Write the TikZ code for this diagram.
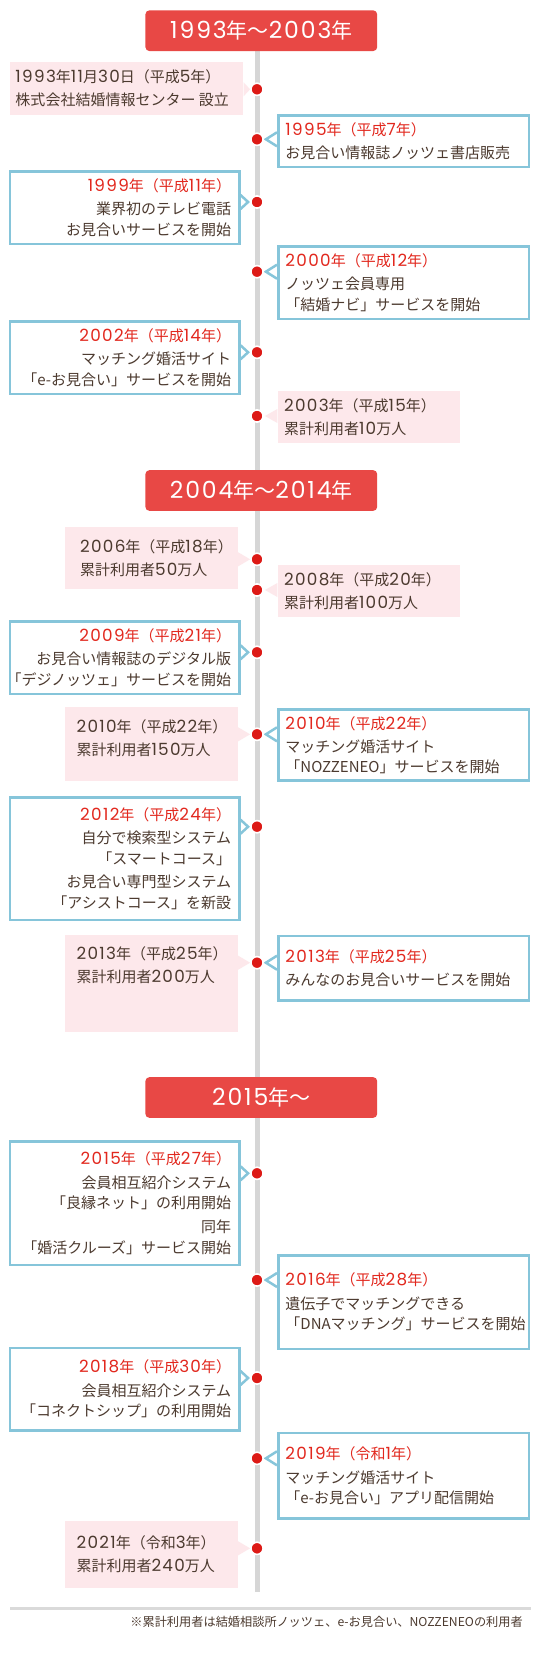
\documentclass[tikz,border=0pt]{standalone}
\usepackage{fontspec}
\setmainfont{Noto Sans CJK JP}
\newfontfamily\digitfont{Poppins}[Scale=1.12, LetterSpace=8]
\usetikzlibrary{positioning, calc, backgrounds}
\definecolor{erared}{HTML}{E84845}
\definecolor{yearred}{HTML}{E2281E}
\definecolor{dotred}{HTML}{DD1A16}
\definecolor{txtbrown}{HTML}{4C3A2F}
\definecolor{boxblue}{HTML}{86C5DA}
\definecolor{boxpink}{HTML}{FDE8EB}
\definecolor{spinegray}{HTML}{D6D6D6}
\definecolor{sepgray}{HTML}{DADADA}

% digits in Poppins, the rest in Noto Sans CJK
\newXeTeXintercharclass\digitclass
\newcount\chr
\chr=`0 \loop\XeTeXcharclass\chr=\digitclass \ifnum\chr<`9 \advance\chr by 1 \repeat
\newcount\cls
\cls=0 \loop
  \XeTeXinterchartoks\cls\digitclass={\begingroup\digitfont}%
  \XeTeXinterchartoks\digitclass\cls={\endgroup}%
  \ifnum\cls<\numexpr\digitclass-1\relax \advance\cls by 1 \repeat
\XeTeXinterchartoks 4095 \digitclass={\begingroup\digitfont}
\XeTeXinterchartoks\digitclass 4095 ={\endgroup}

\begin{document}
\XeTeXinterchartokenstate=1
\begin{tikzpicture}[x=1pt, y=1pt,
    every node/.style={font=\fontsize{15}{20.5}\selectfont, text=txtbrown},
    era/.style={fill=erared, rounded corners=4pt, minimum width=231.8pt, minimum height=40.7pt, inner sep=0pt, text=white, font=\fontsize{21}{24}\selectfont},
    evt/.style={draw=boxblue, line width=2.5pt, fill=white, inner sep=0pt},
    evl/.style={evt, minimum width=229.4pt},
    evr/.style={evt, minimum width=250.8pt},
    cnt/.style={fill=boxpink, inner sep=0pt},
    cntl/.style={cnt, minimum width=173.5pt},
    cntr/.style={cnt, minimum width=182.1pt},
    txtl/.style={align=right, inner sep=0pt},
    txtr/.style={align=left, inner sep=0pt},
    dot/.style={circle, fill=dotred, draw=white, line width=1.6pt, minimum size=12.2pt, inner sep=0pt},
    spine/.style={line width=5pt, spinegray},
    bptr/.style={draw=boxblue, line width=2.5pt, fill=white},
    pptr/.style={fill=boxpink},
    sep/.style={line width=2.7pt, sepgray},
    note/.style={font=\fontsize{12.2}{14}\selectfont, inner sep=0pt}
]
\useasboundingbox (0,0) rectangle (540,-1654);

% eras
\node[era] (era1) at (261.3,-30.7) {1993年〜2003年};
\node[era] (era2) at (261.3,-490.5) {2004年〜2014年};
\node[era] (era3) at (261.3,-1097.5) {2015年〜};

% dots on the time line
\node[dot] (d1993) at (257,-89.3) {};
\node[dot] (d1995) at (257,-139.3) {};
\node[dot] (d1999) at (257,-202) {};
\node[dot] (d2000) at (257,-271.7) {};
\node[dot] (d2002) at (257,-352.3) {};
\node[dot] (d2003) at (257,-416) {};
\node[dot] (d2006) at (257,-559.3) {};
\node[dot] (d2008) at (257,-590) {};
\node[dot] (d2009) at (257,-652.3) {};
\node[dot] (d2010) at (257,-734.3) {};
\node[dot] (d2012) at (257,-826.7) {};
\node[dot] (d2013) at (257,-962.7) {};
\node[dot] (d2015) at (257,-1173.3) {};
\node[dot] (d2016) at (257,-1280) {};
\node[dot] (d2018) at (257,-1378) {};
\node[dot] (d2019) at (257,-1458.3) {};
\node[dot] (d2021) at (257,-1548.3) {};

% 1993 - 2003
\node[cnt, minimum width=233.7pt, minimum height=53pt] (p1993) at (126.55,-88.5) {};
\node[txtr, right=5.8pt of p1993.west] (t1993) {1993年11月30日（平成5年）\\[2.5pt]株式会社結婚情報センター 設立};

\node[evr, minimum height=51.5pt] (b1995) at (403.65,-141.3) {};
\node[txtr, right=8.25pt of b1995.west] (t1995) {\textcolor{yearred}{1995年（平成7年）}\\[2.5pt]お見合い情報誌ノッツェ書店販売};

\node[evl, minimum height=72.5pt] (b1999) at (124.55,-207.5) {};
\node[txtl, left=9.25pt of b1999.east] (t1999) {\textcolor{yearred}{1999年（平成11年）}\\[2.5pt]業界初のテレビ電話\\お見合いサービスを開始};

\node[evr, minimum height=72.5pt] (b2000) at (403.65,-282.5) {};
\node[txtr, right=8.25pt of b2000.west] (t2000) {\textcolor{yearred}{2000年（平成12年）}\\[2.5pt]ノッツェ会員専用\\「結婚ナビ」サービスを開始};

\node[evl, minimum height=72.5pt] (b2002) at (124.55,-357.5) {};
\node[txtl, left=9.25pt of b2002.east] (t2002) {\textcolor{yearred}{2002年（平成14年）}\\[2.5pt]マッチング婚活サイト\\「e-お見合い」サービスを開始};

\node[cntr, minimum height=52pt] (p2003) at (368.65,-417.3) {};
\node[txtr, right=6.4pt of p2003.west] (t2003) {2003年（平成15年）\\[2.5pt]累計利用者10万人};

% 2004 - 2014
\node[cntl, minimum height=62.6pt] (p2006) at (151.25,-558) {};
\node[txtr, right=15.5pt of p2006.west] (t2006) {2006年（平成18年）\\[2.5pt]累計利用者50万人};

\node[cntr, minimum height=52.3pt] (p2008) at (368.65,-591.2) {};
\node[txtr, right=6.4pt of p2008.west] (t2008) {2008年（平成20年）\\[2.5pt]累計利用者100万人};

\node[evl, minimum height=72.5pt] (b2009) at (124.55,-657.5) {};
\node[txtl, left=9.25pt of b2009.east] (t2009) {\textcolor{yearred}{2009年（平成21年）}\\[2.5pt]お見合い情報誌のデジタル版\\「デジノッツェ」サービスを開始};

\node[cntl, minimum height=74pt] (p2010) at (151.25,-743.7) {};
\node[txtr, right=12pt of p2010.west, yshift=5.7pt] (t2010a) {2010年（平成22年）\\[2.5pt]累計利用者150万人};

\node[evr, minimum height=71pt] (b2010) at (403.65,-745) {};
\node[txtr, right=8.25pt of b2010.west] (t2010b) {\textcolor{yearred}{2010年（平成22年）}\\[2.5pt]マッチング婚活サイト\\「NOZZENEO」サービスを開始};

\node[evl, minimum height=122.5pt] (b2012) at (124.55,-858.5) {};
\node[txtl, left=9.25pt of b2012.east] (t2012) {\textcolor{yearred}{2012年（平成24年）}\\[3pt]自分で検索型システム\\「スマートコース」\\[3pt]お見合い専門型システム\\「アシストコース」を新設};

\node[cntl, minimum height=96.7pt] (p2013) at (151.25,-983.3) {};
\node[txtr, right=12pt of p2013.west, yshift=17.8pt] (t2013a) {2013年（平成25年）\\[2.5pt]累計利用者200万人};

\node[evr, minimum height=64.2pt] (b2013) at (403.65,-968.3) {};
\node[txtr, right=8.25pt of b2013.west] (t2013b) {\textcolor{yearred}{2013年（平成25年）}\\[2.5pt]みんなのお見合いサービスを開始};

% 2015 -
\node[evl, minimum height=123.5pt] (b2015) at (124.55,-1203) {};
\node[txtl, left=9.25pt of b2015.east] (t2015) {\textcolor{yearred}{2015年（平成27年）}\\[3.5pt]会員相互紹介システム\\「良縁ネット」の利用開始\\[3.5pt]同年\\「婚活クルーズ」サービス開始};

\node[evr, minimum height=93.5pt] (b2016) at (403.65,-1302) {};
\node[txtr, right=8.25pt of b2016.west] (t2016) {\textcolor{yearred}{2016年（平成28年）}\\[3pt]遺伝子でマッチングできる\\「DNAマッチング」サービスを開始};

\node[evl, minimum height=82.5pt] (b2018) at (124.55,-1389.2) {};
\node[txtl, left=9.25pt of b2018.east] (t2018) {\textcolor{yearred}{2018年（平成30年）}\\[3pt]会員相互紹介システム\\「コネクトシップ」の利用開始};

\node[evr, minimum height=85.8pt] (b2019) at (403.65,-1475.8) {};
\node[txtr, right=8.25pt of b2019.west] (t2019) {\textcolor{yearred}{2019年（令和1年）}\\[3pt]マッチング婚活サイト\\「e-お見合い」アプリ配信開始};

\node[cntl, minimum height=66.7pt] (p2021) at (151.25,-1554.3) {};
\node[txtr, right=12pt of p2021.west] (t2021) {2021年（令和3年）\\[2.5pt]累計利用者240万人};

% footnote
\coordinate (sepl) at (10.3,-1608.7);
\coordinate (sepr) at (531,-1608.7);
\draw[sep] (sepl) -- (sepr);
\node[note, anchor=east] (note) at (523,-1621.7) {※累計利用者は結婚相談所ノッツェ、e-お見合い、NOZZENEOの利用者};

\begin{scope}[on background layer]
\fill[white] (0,0) rectangle (540,-1654);
\coordinate (spineend) at (257,-1592);
\draw[spine] (era1.south -| d1993) -- (spineend);
% pointers
\fill[pptr] ($(p1993.east |- d1993)+(0,7)$) -- (d1993.west) -- ($(p1993.east |- d1993)+(0,-7)$) -- cycle;
\draw[bptr] ($(b1995.west |- d1995)+(0,7)$) -- ([xshift=2pt]d1995.east) -- ($(b1995.west |- d1995)+(0,-7)$);
\draw[bptr] ($(b1999.east |- d1999)+(0,7)$) -- ([xshift=-2pt]d1999.west) -- ($(b1999.east |- d1999)+(0,-7)$);
\draw[bptr] ($(b2000.west |- d2000)+(0,7)$) -- ([xshift=2pt]d2000.east) -- ($(b2000.west |- d2000)+(0,-7)$);
\draw[bptr] ($(b2002.east |- d2002)+(0,7)$) -- ([xshift=-2pt]d2002.west) -- ($(b2002.east |- d2002)+(0,-7)$);
\fill[pptr] ($(p2003.west |- d2003)+(0,7)$) -- ([xshift=1pt]d2003.east) -- ($(p2003.west |- d2003)+(0,-7)$) -- cycle;
\fill[pptr] ($(p2006.east |- d2006)+(0,7)$) -- (d2006.west) -- ($(p2006.east |- d2006)+(0,-7)$) -- cycle;
\fill[pptr] ($(p2008.west |- d2008)+(0,7)$) -- ([xshift=1pt]d2008.east) -- ($(p2008.west |- d2008)+(0,-7)$) -- cycle;
\draw[bptr] ($(b2009.east |- d2009)+(0,7)$) -- ([xshift=-2pt]d2009.west) -- ($(b2009.east |- d2009)+(0,-7)$);
\fill[pptr] ($(p2010.east |- d2010)+(0,7)$) -- (d2010.west) -- ($(p2010.east |- d2010)+(0,-7)$) -- cycle;
\draw[bptr] ($(b2010.west |- d2010)+(0,7)$) -- ([xshift=2pt]d2010.east) -- ($(b2010.west |- d2010)+(0,-7)$);
\draw[bptr] ($(b2012.east |- d2012)+(0,7)$) -- ([xshift=-2pt]d2012.west) -- ($(b2012.east |- d2012)+(0,-7)$);
\fill[pptr] ($(p2013.east |- d2013)+(0,7)$) -- (d2013.west) -- ($(p2013.east |- d2013)+(0,-7)$) -- cycle;
\draw[bptr] ($(b2013.west |- d2013)+(0,7)$) -- ([xshift=2pt]d2013.east) -- ($(b2013.west |- d2013)+(0,-7)$);
\draw[bptr] ($(b2015.east |- d2015)+(0,7)$) -- ([xshift=-2pt]d2015.west) -- ($(b2015.east |- d2015)+(0,-7)$);
\draw[bptr] ($(b2016.west |- d2016)+(0,7)$) -- ([xshift=2pt]d2016.east) -- ($(b2016.west |- d2016)+(0,-7)$);
\draw[bptr] ($(b2018.east |- d2018)+(0,7)$) -- ([xshift=-2pt]d2018.west) -- ($(b2018.east |- d2018)+(0,-7)$);
\draw[bptr] ($(b2019.west |- d2019)+(0,7)$) -- ([xshift=2pt]d2019.east) -- ($(b2019.west |- d2019)+(0,-7)$);
\fill[pptr] ($(p2021.east |- d2021)+(0,7)$) -- (d2021.west) -- ($(p2021.east |- d2021)+(0,-7)$) -- cycle;
\end{scope}
\end{tikzpicture}
\end{document}
